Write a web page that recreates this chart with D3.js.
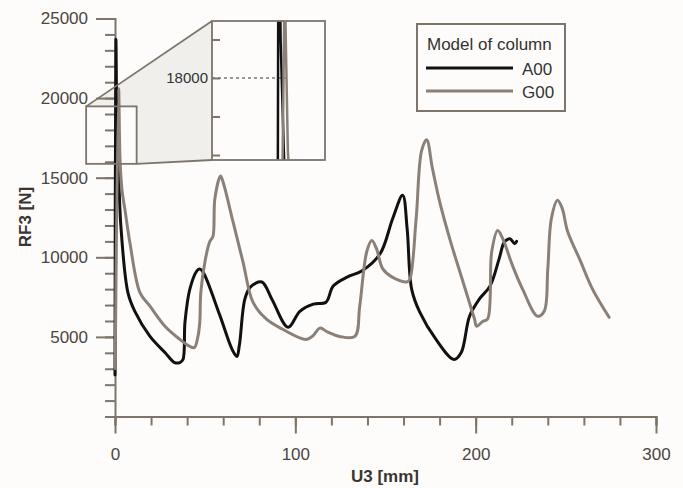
<!DOCTYPE html>
<html>
<head>
<meta charset="utf-8">
<script src="https://cdn.jsdelivr.net/npm/d3@7"></script>
<style>
  html, body { margin: 0; padding: 0; background: #fdfcfa; }
  svg { display: block; font-family: "Liberation Sans", Arial, sans-serif; }
</style>
</head>
<body>
<svg id="chart"></svg>
<script>
'use strict';

const WIDTH = 683;
const HEIGHT = 488;

// U3 [mm] / RF3 [N]
const a00U  = [0, 0.5, 1.0, 1.8, 3.3, 7.2, 11, 19.4, 27.7, 33, 36, 37.7, 38.8, 41.5, 45.4, 47, 48.8, 58, 65, 67.6, 69, 72, 75, 81.4, 87, 96, 102.5, 110, 117, 121, 129, 137, 147, 154, 159.5, 162, 164.5, 169, 178, 188, 192, 196.6, 202, 208, 213, 216, 219, 221.6, 222.7];
const a00RF = [2600, 23700, 19000, 16100, 11900, 7760, 6600, 5030, 4020, 3390, 3390, 3580, 5920, 8000, 9150, 9270, 9080, 6400, 4200, 3770, 4500, 7370, 8130, 8450, 7370, 5600, 6610, 7060, 7180, 8200, 8770, 9150, 10220, 12440, 13900, 11800, 8000, 6550, 4840, 3580, 4020, 6300, 7370, 8200, 9900, 10980, 11170, 10850, 11000];

const g00U  = [0.1, 2.0, 2.8, 3.9, 5.5, 8.3, 13.9, 19.4, 27.7, 36, 41.5, 44, 46, 47, 47.6, 50, 52.6, 54.3, 55.4, 58.5, 60, 65.4, 71, 76.5, 84, 93, 106, 110, 113.6, 118, 124.6, 133, 135.7, 139.6, 142.4, 145, 148.5, 153.5, 161.8, 163.4, 167, 170, 172.8, 176, 180, 185.6, 193, 199.4, 200.5, 204, 206.6, 208.9, 212.2, 215, 220.5, 226, 234.3, 238, 240, 242, 245.4, 248, 251, 257.6, 264.8, 274];
const g00RF = [3000, 20600, 16100, 14200, 13000, 10900, 7760, 6930, 5670, 4840, 4400, 4330, 5030, 5920, 7810, 9800, 11000, 11300, 13700, 15100, 14700, 12250, 9700, 7180, 6110, 5480, 4840, 5100, 5550, 5300, 5030, 5030, 6930, 10350, 11050, 10540, 9270, 8770, 8450, 8600, 12440, 16680, 17380, 15600, 13510, 11170, 8450, 6110, 5670, 5980, 6110, 10350, 11680, 11170, 9460, 8000, 6300, 6610, 9270, 12440, 13580, 13070, 11620, 9900, 8000, 6230];

const seriesNames = ['A00', 'G00'];
const seriesColors = ['#111111', '#8a8078'];

const xMajor = [0, 100, 200, 300];
const xMinor = d3.range(0, 301, 20);
const yMajor = [5000, 10000, 15000, 20000, 25000];
const yMinor = d3.range(0, 25001, 1000);

// zoomed window and its ticks
const zoomX = [-16, 12];
const zoomY = [15870, 19480];
const insetTicks = [16000, 17000, 18000, 19000];
const insetMark = 18000;
const insetMarkEnd = 2.8;

const AXIS = '#7d746b';
const TEXT = '#4a4540';

const x = d3.scaleLinear().domain([0, 300]).range([115, 656]);
const y = d3.scaleLinear().domain([0, 25000]).range([416.5, 18.5]);

const ix = d3.scaleLinear().domain(zoomX).range([212, 325]);
const iy = d3.scaleLinear().domain(zoomY).range([160, 21]);

const svg = d3.select('#chart')
  .attr('width', WIDTH).attr('height', HEIGHT)
  .attr('viewBox', `0 0 ${WIDTH} ${HEIGHT}`);

svg.append('rect').attr('width', WIDTH).attr('height', HEIGHT).attr('fill', '#fdfcfa');

const series = [
  { name: seriesNames[0], color: seriesColors[0], pts: a00U.map((u, i) => [u, a00RF[i]]) },
  { name: seriesNames[1], color: seriesColors[1], pts: g00U.map((u, i) => [u, g00RF[i]]) },
];

// shaded connector between the small box and the inset
const sx0 = x(zoomX[0]), sx1 = x(zoomX[1]);
const sy0 = y(zoomY[1]), sy1 = y(zoomY[0]);
const ix0 = ix.range()[0], ix1 = ix.range()[1];
const iy0 = iy.range()[1], iy1 = iy.range()[0];

svg.append('polygon')
  .attr('points', [[sx0, sy0], [ix0, iy0], [ix0, iy1], [sx1, sy1], [sx1, sy0]].join(' '))
  .attr('fill', '#ecebe8').attr('opacity', 0.8);

// axes
function styleAxis(g) {
  g.select('.domain').attr('stroke', AXIS).attr('stroke-width', 2);
  g.selectAll('.tick line').attr('stroke', AXIS).attr('stroke-width', 2);
  g.selectAll('.tick text').attr('fill', TEXT).attr('font-size', 17);
}

const xMinorG = svg.append('g').attr('transform', `translate(0,${y(0)})`)
  .call(d3.axisBottom(x).tickValues(xMinor).tickSize(9).tickFormat(''));
styleAxis(xMinorG);
const xMajorG = svg.append('g').attr('transform', `translate(0,${y(0)})`)
  .call(d3.axisBottom(x).tickValues(xMajor).tickSize(17).tickPadding(14).tickFormat(d3.format('d')));
styleAxis(xMajorG);

const yMinorG = svg.append('g').attr('transform', `translate(${x(0)},0)`)
  .call(d3.axisLeft(y).tickValues(yMinor).tickSize(10).tickFormat(''));
styleAxis(yMinorG);
const yMajorG = svg.append('g').attr('transform', `translate(${x(0)},0)`)
  .call(d3.axisLeft(y).tickValues(yMajor).tickSize(19).tickPadding(8).tickFormat(d3.format('d')));
styleAxis(yMajorG);
yMajorG.select('.domain').remove();
xMajorG.select('.domain').remove();

// curves
const line = d3.line().x(d => x(d[0])).y(d => y(d[1])).curve(d3.curveCatmullRom.alpha(0.5));
series.forEach(s => {
  svg.append('path').datum(s.pts)
    .attr('d', line)
    .attr('fill', 'none').attr('stroke', s.color)
    .attr('stroke-width', 3).attr('stroke-linejoin', 'round').attr('stroke-linecap', 'round');
});

// small zoom box and connector lines
svg.append('rect')
  .attr('x', sx0).attr('y', sy0).attr('width', sx1 - sx0).attr('height', sy1 - sy0)
  .attr('fill', 'none').attr('stroke', AXIS).attr('stroke-width', 1.8);
svg.append('line').attr('x1', sx0).attr('y1', sy0).attr('x2', ix0).attr('y2', iy0)
  .attr('stroke', AXIS).attr('stroke-width', 1.8);
svg.append('line').attr('x1', sx1).attr('y1', sy1).attr('x2', ix0).attr('y2', iy1)
  .attr('stroke', AXIS).attr('stroke-width', 1.8);

// inset
const inset = svg.append('g');
inset.append('rect')
  .attr('x', ix0).attr('y', iy0).attr('width', ix1 - ix0).attr('height', iy1 - iy0)
  .attr('fill', '#fdfcfa');

svg.append('clipPath').attr('id', 'inset-clip')
  .append('rect').attr('x', ix0).attr('y', iy0).attr('width', ix1 - ix0).attr('height', iy1 - iy0);

inset.append('line')
  .attr('x1', ix0).attr('x2', ix(insetMarkEnd))
  .attr('y1', iy(insetMark)).attr('y2', iy(insetMark))
  .attr('stroke', '#333').attr('stroke-width', 1.2).attr('stroke-dasharray', '3,3');

const insetLine = d3.line().x(d => ix(d[0])).y(d => iy(d[1]));
const clipG = inset.append('g').attr('clip-path', 'url(#inset-clip)');
series.forEach(s => {
  clipG.append('path').datum(s.pts)
    .attr('d', insetLine)
    .attr('fill', 'none').attr('stroke', s.color).attr('stroke-width', 2.5);
});

const insetAxis = inset.append('g').attr('transform', `translate(${ix0},0)`)
  .call(d3.axisLeft(iy).tickValues(insetTicks).tickSize(-8).tickPadding(4)
    .tickFormat(d => d === insetMark ? d : ''));
styleAxis(insetAxis);
insetAxis.select('.domain').remove();
insetAxis.selectAll('.tick text').attr('font-size', 15).attr('fill', '#333');

inset.append('rect')
  .attr('x', ix0).attr('y', iy0).attr('width', ix1 - ix0).attr('height', iy1 - iy0)
  .attr('fill', 'none').attr('stroke', AXIS).attr('stroke-width', 1.8);

// axis titles
svg.append('text')
  .attr('x', 385).attr('y', 482).attr('text-anchor', 'middle')
  .attr('font-size', 17).attr('font-weight', 700).attr('fill', '#3a3530')
  .text('U3 [mm]');
svg.append('text')
  .attr('transform', 'translate(31,217) rotate(-90)').attr('text-anchor', 'middle')
  .attr('font-size', 17).attr('font-weight', 700).attr('fill', '#3a3530')
  .text('RF3 [N]');

// legend
const legend = svg.append('g').attr('transform', 'translate(417,24)');
legend.append('rect')
  .attr('width', 148).attr('height', 87)
  .attr('fill', '#fdfcfa').attr('stroke', AXIS).attr('stroke-width', 2);
legend.append('text')
  .attr('x', 10).attr('y', 26).attr('font-size', 17).attr('fill', '#333')
  .text('Model of column');
series.forEach((s, i) => {
  const ly = 44 + i * 23;
  legend.append('line')
    .attr('x1', 9).attr('x2', 96).attr('y1', ly).attr('y2', ly)
    .attr('stroke', s.color).attr('stroke-width', 3);
  legend.append('text')
    .attr('x', 105).attr('y', ly + 7).attr('font-size', 17).attr('fill', '#333')
    .text(s.name);
});
</script>
</body>
</html>
